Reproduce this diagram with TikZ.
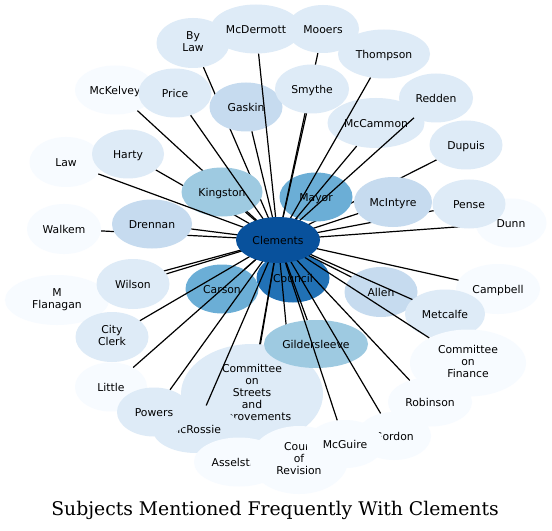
\documentclass[tikz,border=0pt]{standalone}
\usepackage{fontspec}
\setmainfont{DejaVu Sans}
\newfontfamily\ttlfont{DejaVu Serif}
\usetikzlibrary{shapes.geometric}
\definecolor{cA}{HTML}{08519C}
\definecolor{cB}{HTML}{2171B5}
\definecolor{cC}{HTML}{6BAED6}
\definecolor{cD}{HTML}{9ECAE1}
\definecolor{cE}{HTML}{C6DBEF}
\definecolor{cF}{HTML}{DEEBF7}
\definecolor{cG}{HTML}{F7FBFF}
\pgfdeclarelayer{bg}
\pgfdeclarelayer{lzero}
\pgfdeclarelayer{lone}
\pgfdeclarelayer{ltwo}
\pgfdeclarelayer{lthree}
\pgfdeclarelayer{front}
\pgfsetlayers{bg,lzero,lone,ltwo,lthree,main,front}
\newcommand\lab[1]{\makebox[0pt]{\vphantom{l}\smash{#1}}}
\newcommand\labm[1]{\makebox[0pt]{\begin{tabular}{@{}c@{}}#1\end{tabular}}}
\newcommand\mknode[7]{\node[nd, fill=#6, minimum width=#4bp, minimum height=#5bp] (#1) at (#2,#3) {#7};}
\begin{document}
\begin{tikzpicture}[x=1bp,y=-1bp,
  nd/.style={ellipse, inner sep=0pt, draw=none, font=\fontsize{10.8bp}{12bp}\selectfont},
  edge/.style={line width=1.2bp, black},
  ttl/.style={font=\ttlfont\fontsize{18.8bp}{20bp}\selectfont, anchor=base, inner sep=0pt}]
\useasboundingbox (0,0) rectangle (552,531);
\begin{pgfonlayer}{bg}
\fill[white] (0,0) rectangle (552,531);
\end{pgfonlayer}
\begin{pgfonlayer}{front}
\mknode{clements}{278}{240}{84}{46}{cA}{\lab{Clements}}
\end{pgfonlayer}
\begin{pgfonlayer}{lone}
\mknode{mayor}{316}{197}{73}{49}{cC}{\lab{Mayor}}
\mknode{council}{293}{278}{73}{49}{cB}{\lab{Council}}
\mknode{carson}{222}{289}{73}{49}{cC}{\lab{Carson}}
\mknode{allen}{381}{292}{73}{50}{cE}{\lab{Allen}}
\mknode{mccammon}{376}{123}{97}{50}{cF}{\lab{McCammon}}
\end{pgfonlayer}
\begin{pgfonlayer}{lthree}
\mknode{law}{66}{162}{73}{50}{cG}{\lab{Law}}
\mknode{harty}{128}{154}{72}{49}{cF}{\lab{Harty}}
\mknode{mckelvey}{115}{90}{80}{49}{cG}{\lab{McKelvey}}
\mknode{price}{175}{93}{73}{49}{cF}{\lab{Price}}
\mknode{walkem}{64}{229}{74}{50}{cG}{\lab{Walkem}}
\mknode{drennan}{152}{224}{80}{49}{cE}{\lab{Drennan}}
\mknode{kingston}{222}{192}{81}{49}{cD}{\lab{Kingston}}
\mknode{bylaw}{193}{43}{73}{50}{cF}{\labm{By\\Law}}
\mknode{mcdermott}{256}{29}{91}{49}{cF}{\lab{McDermott}}
\mknode{mooers}{323}{29}{72}{48}{cF}{\lab{Mooers}}
\mknode{thompson}{384}{54}{92}{49}{cF}{\lab{Thompson}}
\mknode{gaskin}{246}{107}{73}{49}{cE}{\lab{Gaskin}}
\mknode{smythe}{312}{89}{74}{49}{cF}{\lab{Smythe}}
\mknode{redden}{436}{98}{74}{49}{cF}{\lab{Redden}}
\mknode{dupuis}{466}{145}{73}{49}{cF}{\lab{Dupuis}}
\mknode{dunn}{511}{223}{71}{49}{cG}{\lab{Dunn}}
\mknode{pense}{469}{204}{73}{49}{cF}{\lab{Pense}}
\mknode{mcintyre}{393}{202}{78}{50}{cE}{\lab{McIntyre}}
\mknode{campbell}{498}{289}{84}{50}{cG}{\lab{Campbell}}
\mknode{metcalfe}{445}{314}{80}{49}{cF}{\lab{Metcalfe}}
\mknode{cof}{468}{363}{116}{67}{cG}{\labm{Committee\\on\\Finance}}
\mknode{robinson}{430}{402}{84}{49}{cG}{\lab{Robinson}}
\mknode{mflanagan}{57}{300}{104}{50}{cG}{\labm{M\\Flanagan}}
\mknode{wilson}{133}{284}{73}{50}{cF}{\lab{Wilson}}
\mknode{cityclerk}{112}{337}{73}{50}{cF}{\labm{City\\Clerk}}
\mknode{little}{111}{387}{72}{49}{cG}{\lab{Little}}
\mknode{cos}{252}{394}{142}{100}{cF}{\labm{Committee\\on\\Streets\\and\\Improvements}}
\mknode{gilder}{316}{344}{104}{48}{cD}{\lab{Gildersleeve}}
\mknode{mcrossie}{196}{429}{87}{48}{cF}{\lab{McRossie}}
\mknode{powers}{154}{412}{74}{49}{cF}{\lab{Powers}}
\mknode{asselstine}{239}{462}{90}{49}{cG}{\lab{Asselstine}}
\mknode{court}{299}{460}{98}{68}{cG}{\labm{Court\\of\\Revision}}
\mknode{gordon}{394}{436}{74}{48}{cG}{\lab{Gordon}}
\mknode{mcguire}{345}{444}{77}{48}{cG}{\lab{McGuire}}
\end{pgfonlayer}
% edges under everything
\begin{pgfonlayer}{lzero}
\draw[edge] (clements.center) -- (dupuis);
\end{pgfonlayer}
% edges under the outer nodes
\begin{pgfonlayer}{ltwo}
\foreach \t in {harty,mckelvey,walkem,bylaw,mooers,mflanagan,pense,dunn,court,asselstine}
  \draw[edge] (clements.center) -- (\t);
\end{pgfonlayer}
% edges over the nodes
\foreach \t in {law,price,drennan,kingston,gaskin,mcdermott,smythe,thompson,mccammon,redden,mayor,mcintyre,campbell,allen,metcalfe,cof,robinson,gordon,mcguire,gilder,cos,mcrossie,powers,little,cityclerk,wilson,carson,council}
  \draw[edge] (clements.center) -- (\t);
\node[ttl] (title) at (275,515) {Subjects Mentioned Frequently With Clements};
\end{tikzpicture}
\end{document}
